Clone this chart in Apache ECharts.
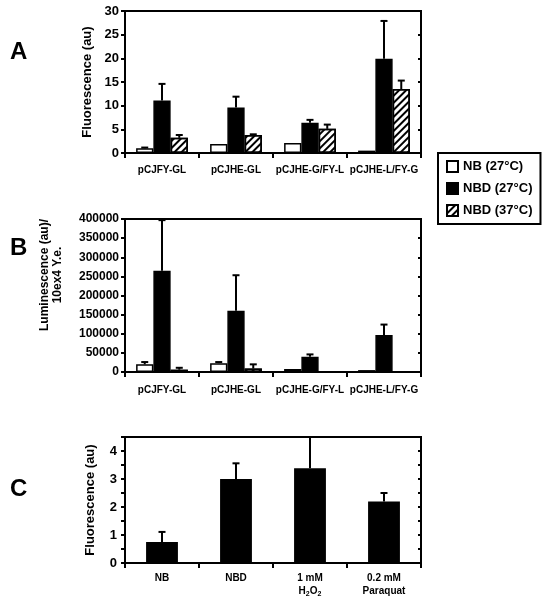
<!DOCTYPE html>
<html><head><meta charset="utf-8">
<script src="https://cdn.jsdelivr.net/npm/echarts@6/dist/echarts.min.js"></script>
<style>html,body{margin:0;padding:0;background:#fff}#c{width:545px;height:600px}</style>
</head><body><div id="c"></div>
<script>
const catsAB = ['pCJFY-GL','pCJHE-GL','pCJHE-G/FY-L','pCJHE-L/FY-G'];
const seriesNames = ['NB (27°C)','NBD (27°C)','NBD (37°C)'];
// Panel A: Fluorescence (au)
const aNB = [1.0, 1.9, 2.1, 0.5];
const aNBerr = [0.15, 0, 0, 0];
const aNBD27 = [11.1, 9.6, 6.4, 19.9];
const aNBD27err = [3.5, 2.3, 0.6, 8.0];
const aNBD37 = [3.2, 3.8, 5.1, 13.5];
const aNBD37err = [0.6, 0.15, 0.9, 1.8];
// Panel B: Luminescence
const bNB = [20000, 23000, 8000, 5000];
const bNBerr = [6000, 3000, 0, 0];
const bNBD27 = [265000, 160000, 40000, 97000];
const bNBD27err = [132000, 93000, 6000, 27000];
const bNBD37 = [6000, 9000, 1500, 1500];
const bNBD37err = [5000, 11000, 0, 0];
// Panel C
const catsC = ['NB','NBD','1 mM H2O2','0.2 mM Paraquat'];
const cVal = [0.75, 3.0, 3.38, 2.2];
const cErr = [0.36, 0.56, 1.12, 0.3];

const FONT = 'Liberation Sans, Arial, sans-serif';
const chart = echarts.init(document.getElementById('c'));

const hatch = {symbol:'rect', symbolSize:1, dashArrayX:[[1,0]], dashArrayY:[2,3], rotation:-Math.PI/4, color:'#000'};
const styles = [
  {color:'#fff', borderColor:'#000', borderWidth:1.5},
  {color:'#000', borderColor:'#000', borderWidth:1.5},
  {color:'#fff', borderColor:'#000', borderWidth:1.5, decal:hatch}
];

function errSeries(axIdx, vals, errs, barIndex, nBars, gap){
  return {
    type:'custom', xAxisIndex:axIdx, yAxisIndex:axIdx, z:5, silent:true,
    data: vals.map((v,i)=>[i, v, v+errs[i], errs[i]]),
    encode:{x:0, y:[1,2]},
    renderItem(params, api){
      if (api.value(3) <= 0) return null;
      const x = api.value(0);
      const b = api.coord([x, api.value(1)]);
      const t = api.coord([x, api.value(2)]);
      const band = api.size([1,0])[0];
      const bw = band*(1-gap)/nBars;
      const cx = b[0] + (barIndex-(nBars-1)/2)*bw;
      return {type:'group', children:[
        {type:'line', shape:{x1:cx,y1:b[1],x2:cx,y2:t[1]}, style:{stroke:'#000', lineWidth:2}},
        {type:'line', shape:{x1:cx-3.5,y1:t[1],x2:cx+3.5,y2:t[1]}, style:{stroke:'#000', lineWidth:2}}
      ]};
    }
  };
}

const axisLbl = {color:'#000', fontFamily:FONT, fontWeight:'bold'};
function yAx(idx, max, interval, fs, name, extra){
  return Object.assign({
    type:'value', gridIndex:idx, min:0, max:max, interval:interval,
    axisLine:{show:true, lineStyle:{color:'#000', width:2}},
    axisTick:{show:true, length:4, lineStyle:{color:'#000', width:2}},
    splitLine:{show:false},
    axisLabel:Object.assign({fontSize:fs, margin:6}, axisLbl),
    name:name, nameLocation:'middle', nameGap:30,
    nameTextStyle:{color:'#000', fontFamily:FONT, fontWeight:'bold', fontSize:13}
  }, extra||{});
}
function yIn(idx, max, interval){
  return {type:'value', gridIndex:idx, min:0, max:max, interval:interval,
    axisLine:{show:false}, axisLabel:{show:false}, splitLine:{show:false},
    axisTick:{show:true, inside:true, length:3, lineStyle:{color:'#000', width:2}}};
}
function xAx(idx, cats, extra){
  return Object.assign({
    type:'category', gridIndex:idx, data:cats,
    axisLine:{show:true, lineStyle:{color:'#000', width:2}},
    axisTick:{show:true, length:5, lineStyle:{color:'#000', width:2}},
    axisLabel:Object.assign({fontSize:10, margin:12, interval:0}, axisLbl)
  }, extra||{});
}
function xIn(idx, cats){
  return {type:'category', gridIndex:idx, data:cats,
    axisLine:{show:false}, axisLabel:{show:false},
    axisTick:{show:true, inside:true, length:4, lineStyle:{color:'#000', width:2}}};
}

const gapAB = 0.3, gapC = 0.57;
const series = [];
const aVals = [aNB, aNBD27, aNBD37], aErrs = [aNBerr, aNBD27err, aNBD37err];
const bVals = [bNB, bNBD27, bNBD37], bErrs = [bNBerr, bNBD27err, bNBD37err];
for (let k=0;k<3;k++){
  series.push({type:'bar', name:seriesNames[k], xAxisIndex:0, yAxisIndex:0, data:aVals[k],
    barGap:'0%', barCategoryGap:(gapAB*100)+'%', itemStyle:styles[k]});
}
for (let k=0;k<3;k++){
  series.push({type:'bar', name:seriesNames[k], xAxisIndex:1, yAxisIndex:1, data:bVals[k],
    barGap:'0%', barCategoryGap:(gapAB*100)+'%', itemStyle:styles[k]});
}
series.push({type:'bar', name:'C', xAxisIndex:2, yAxisIndex:2, data:cVal,
  barCategoryGap:(gapC*100)+'%', itemStyle:styles[1]});
for (let k=0;k<3;k++){
  series.push(errSeries(0, aVals[k], aErrs[k], k, 3, gapAB));
  series.push(errSeries(1, bVals[k], bErrs[k], k, 3, gapAB));
}
series.push(errSeries(2, cVal, cErr, 0, 1, gapC));

const grids = [
  {left:125, top:11, width:296, height:142},
  {left:125, top:219, width:296, height:153},
  {left:125, top:437, width:296, height:126}
].map(g=>Object.assign({show:true, borderColor:'#000', borderWidth:2, backgroundColor:'#fff'}, g));

const option = {
  animation:false,
  grid:grids,
  xAxis:[
    xAx(0, catsAB),
    xAx(1, catsAB, {axisLabel:Object.assign({fontSize:10, margin:13, interval:0}, axisLbl)}),
    xAx(2, catsC, {axisLabel:Object.assign({interval:0, margin:9,
      formatter:function(v){
        if (v==='1 mM H2O2') return '{b|1 mM}\n{b|H}{s|2}{b|O}{s|2}';
        if (v==='0.2 mM Paraquat') return '{b|0.2 mM}\n{b|Paraquat}';
        return '{b|'+v+'}';
      },
      rich:{
        b:{fontSize:10, fontWeight:'bold', fontFamily:FONT, color:'#000', lineHeight:13},
        s:{fontSize:7, fontWeight:'bold', fontFamily:FONT, color:'#000', lineHeight:13, verticalAlign:'bottom', padding:[5,0,0,0]}
      }}, axisLbl)}),
    xIn(0, catsAB), xIn(1, catsAB), xIn(2, catsC)
  ],
  yAxis:[
    yAx(0, 30, 5, 13, 'Fluorescence (au)', {nameGap:27}),
    yAx(1, 400000, 50000, 12, '', {axisLabel:Object.assign({fontSize:12, margin:6, formatter:function(v){return String(v);}}, axisLbl)}),
    yAx(2, 4.5, 0.5, 13, 'Fluorescence (au)', {nameGap:28,
      axisLabel:Object.assign({fontSize:13, margin:8, formatter:function(v){return (Math.abs(v-Math.round(v))<1e-6 && v<4.4)? String(Math.round(v)) : '';}}, axisLbl)}),
    yIn(0, 30, 5), yIn(1, 400000, 50000), yIn(2, 4.5, 0.5)
  ],
  legend:{
    data:seriesNames, orient:'vertical', left:438, top:153, icon:'rect',
    width:100, padding:[7,8,7,8], itemGap:9,
    borderColor:'#000', borderWidth:2, backgroundColor:'#fff',
    itemWidth:11, itemHeight:11, selectedMode:false,
    textStyle:{color:'#000', fontFamily:FONT, fontWeight:'bold', fontSize:13}
  },
  graphic:[
    {type:'text', left:10, top:40, style:{text:'A', fontFamily:FONT, fontWeight:'bold', fontSize:24, fill:'#000'}},
    {type:'text', left:10, top:236, style:{text:'B', fontFamily:FONT, fontWeight:'bold', fontSize:24, fill:'#000'}},
    {type:'text', left:10, top:477, style:{text:'C', fontFamily:FONT, fontWeight:'bold', fontSize:24, fill:'#000'}},
    {type:'text', x:51, y:275, rotation:Math.PI/2, style:{text:'Luminescence (au)/\n10ex4 Y.e.', align:'center', verticalAlign:'middle', lineHeight:13, fontFamily:FONT, fontWeight:'bold', fontSize:12, fill:'#000'}}
  ],
  series:series
};
chart.setOption(option);
</script></body></html>
